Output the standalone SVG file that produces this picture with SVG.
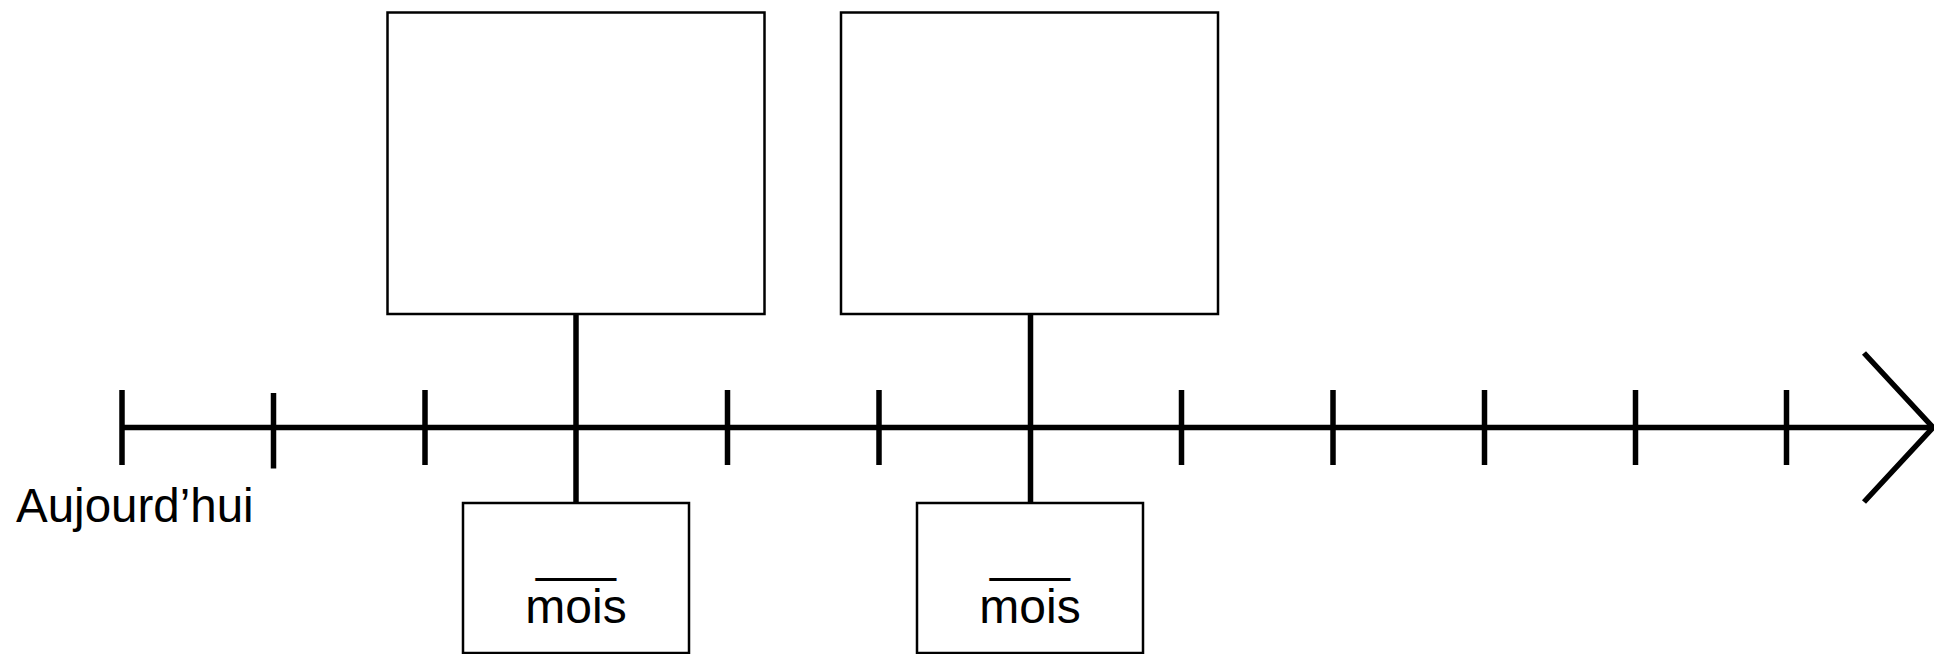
<svg xmlns="http://www.w3.org/2000/svg" width="1934" height="654" viewBox="0 0 1934 654">
<style>
.box{fill:#fff;stroke:#000;stroke-width:2.5}
.thick{stroke:#000;stroke-width:5.5;fill:none}
.lbl{font-family:"Liberation Sans",Arial,sans-serif;fill:#000}
</style>
<rect width="1934" height="654" fill="#fff"/>
<g id="timeline">
<line class="thick" x1="122" y1="427.5" x2="1931" y2="427.5"/>
<line class="thick" x1="122" y1="390" x2="122" y2="465"/>
<line class="thick" x1="273.5" y1="393" x2="273.5" y2="468.5"/>
<line class="thick" x1="425" y1="390" x2="425" y2="465"/>
<line class="thick" x1="727.5" y1="390" x2="727.5" y2="465"/>
<line class="thick" x1="879" y1="390" x2="879" y2="465"/>
<line class="thick" x1="1181.5" y1="390" x2="1181.5" y2="465"/>
<line class="thick" x1="1333" y1="390" x2="1333" y2="465"/>
<line class="thick" x1="1484.5" y1="390" x2="1484.5" y2="465"/>
<line class="thick" x1="1635.5" y1="390" x2="1635.5" y2="465"/>
<line class="thick" x1="1786.5" y1="390" x2="1786.5" y2="465"/>
<polyline class="thick" points="1864,353 1933,427.5 1864,502" stroke-linejoin="miter"/>
</g>
<g id="connectors">
<line class="thick" x1="576" y1="314" x2="576" y2="503"/>
<line class="thick" x1="1030.5" y1="314" x2="1030.5" y2="503"/>
</g>
<g id="top1"><rect class="box" x="387.5" y="12.5" width="377" height="301.5"/></g>
<g id="top2"><rect class="box" x="841" y="12.5" width="377" height="301.5"/></g>
<g id="bottom1">
<rect class="box" x="463" y="503" width="226" height="150"/>
<text class="lbl" x="576" y="571" font-size="48" text-anchor="middle">___</text>
<text class="lbl" x="576" y="623" font-size="48" text-anchor="middle">mois</text>
</g>
<g id="bottom2">
<rect class="box" x="917" y="503" width="226" height="150"/>
<text class="lbl" x="1030" y="571" font-size="48" text-anchor="middle">___</text>
<text class="lbl" x="1030" y="623" font-size="48" text-anchor="middle">mois</text>
</g>
<g id="today">
<text class="lbl" x="16" y="522" font-size="47.5">Aujourd’hui</text>
</g>
</svg>
